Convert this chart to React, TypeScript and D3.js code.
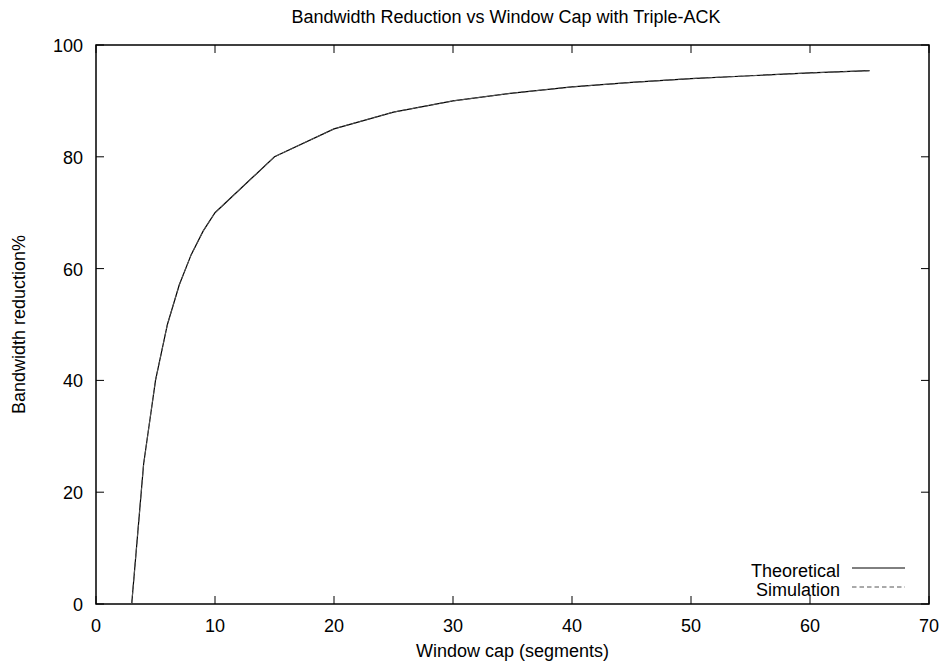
import React, { useEffect, useRef } from "react";
import * as d3 from "d3";

const windowCaps = [3, 4, 5, 6, 7, 8, 9, 10, 15, 20, 25, 30, 35, 40, 45, 50, 55, 60, 65];
const theoretical = [0, 25, 40, 50, 57.1, 62.5, 66.7, 70, 80, 85, 88, 90, 91.4, 92.5, 93.3, 94, 94.5, 95, 95.4];
const simulation = [0, 25, 40, 50, 57.1, 62.5, 66.7, 70, 80, 85, 88, 90, 91.4, 92.5, 93.3, 94, 94.5, 95, 95.4];
const xTicks = [0, 10, 20, 30, 40, 50, 60, 70];
const yTicks = [0, 20, 40, 60, 80, 100];

const W = 941, H = 664;
const M = { left: 96, right: 12, top: 45, bottom: 60 };
const FONT = "'Liberation Sans', Arial, Helvetica, sans-serif";
const FS = 18;

export default function App() {
  const ref = useRef<SVGSVGElement>(null);
  useEffect(() => {
    const svg = d3.select(ref.current);
    svg.selectAll("*").remove();
    const x = d3.scaleLinear().domain([0, 70]).range([M.left, W - M.right]);
    const y = d3.scaleLinear().domain([0, 100]).range([H - M.bottom, M.top]);
    const g = svg.append("g");
    const tl = 8;

    g.append("rect").attr("x", x(0)).attr("y", y(100)).attr("width", x(70) - x(0)).attr("height", y(0) - y(100))
      .attr("fill", "none").attr("stroke", "#000").attr("stroke-width", 1.5);

    xTicks.forEach(t => {
      g.append("line").attr("x1", x(t)).attr("x2", x(t)).attr("y1", y(0)).attr("y2", y(0) - tl).attr("stroke", "#000");
      g.append("line").attr("x1", x(t)).attr("x2", x(t)).attr("y1", y(100)).attr("y2", y(100) + tl).attr("stroke", "#000");
      g.append("text").attr("x", x(t)).attr("y", y(0) + 28).attr("text-anchor", "middle")
        .attr("font-family", FONT).attr("font-size", FS).text(String(t));
    });
    yTicks.forEach(t => {
      g.append("line").attr("x1", x(0)).attr("x2", x(0) + tl).attr("y1", y(t)).attr("y2", y(t)).attr("stroke", "#000");
      g.append("line").attr("x1", x(70)).attr("x2", x(70) - tl).attr("y1", y(t)).attr("y2", y(t)).attr("stroke", "#000");
      g.append("text").attr("x", x(0) - 13).attr("y", y(t) + 7).attr("text-anchor", "end")
        .attr("font-family", FONT).attr("font-size", FS).text(String(t));
    });

    const line = d3.line<number>().x((_, i) => x(windowCaps[i])).y(d => y(d));
    g.append("path").attr("d", line(theoretical)!).attr("fill", "none").attr("stroke", "#000").attr("stroke-width", 1.2);
    g.append("path").attr("d", line(simulation)!).attr("fill", "none").attr("stroke", "#555").attr("stroke-width", 1)
      .attr("stroke-dasharray", "4.5,3");

    g.append("text").attr("x", 506).attr("y", 23).attr("text-anchor", "middle")
      .attr("font-family", FONT).attr("font-size", FS).text("Bandwidth Reduction vs Window Cap with Triple-ACK");
    g.append("text").attr("x", (x(0) + x(70)) / 2).attr("y", 657).attr("text-anchor", "middle")
      .attr("font-family", FONT).attr("font-size", FS).text("Window cap (segments)");
    g.append("text").attr("transform", `translate(25,${(y(0) + y(100)) / 2}) rotate(-90)`).attr("text-anchor", "middle")
      .attr("font-family", FONT).attr("font-size", FS).text("Bandwidth reduction%");

    const legend = [
      { name: "Theoretical", dash: null, color: "#000", yy: 568 },
      { name: "Simulation", dash: "4.5,3", color: "#555", yy: 587 },
    ];
    legend.forEach(l => {
      g.append("text").attr("x", 840).attr("y", l.yy + 8.5).attr("text-anchor", "end")
        .attr("font-family", FONT).attr("font-size", FS).text(l.name);
      const ln = g.append("line").attr("x1", 852).attr("x2", 905).attr("y1", l.yy).attr("y2", l.yy)
        .attr("stroke", l.color).attr("stroke-width", 1);
      if (l.dash) ln.attr("stroke-dasharray", l.dash);
    });
  }, []);
  return (
    <div style={{ position: "fixed", left: 0, top: 0, background: "#fff" }}>
      <svg ref={ref} width={W} height={H} style={{ display: "block" }} />
    </div>
  );
}
